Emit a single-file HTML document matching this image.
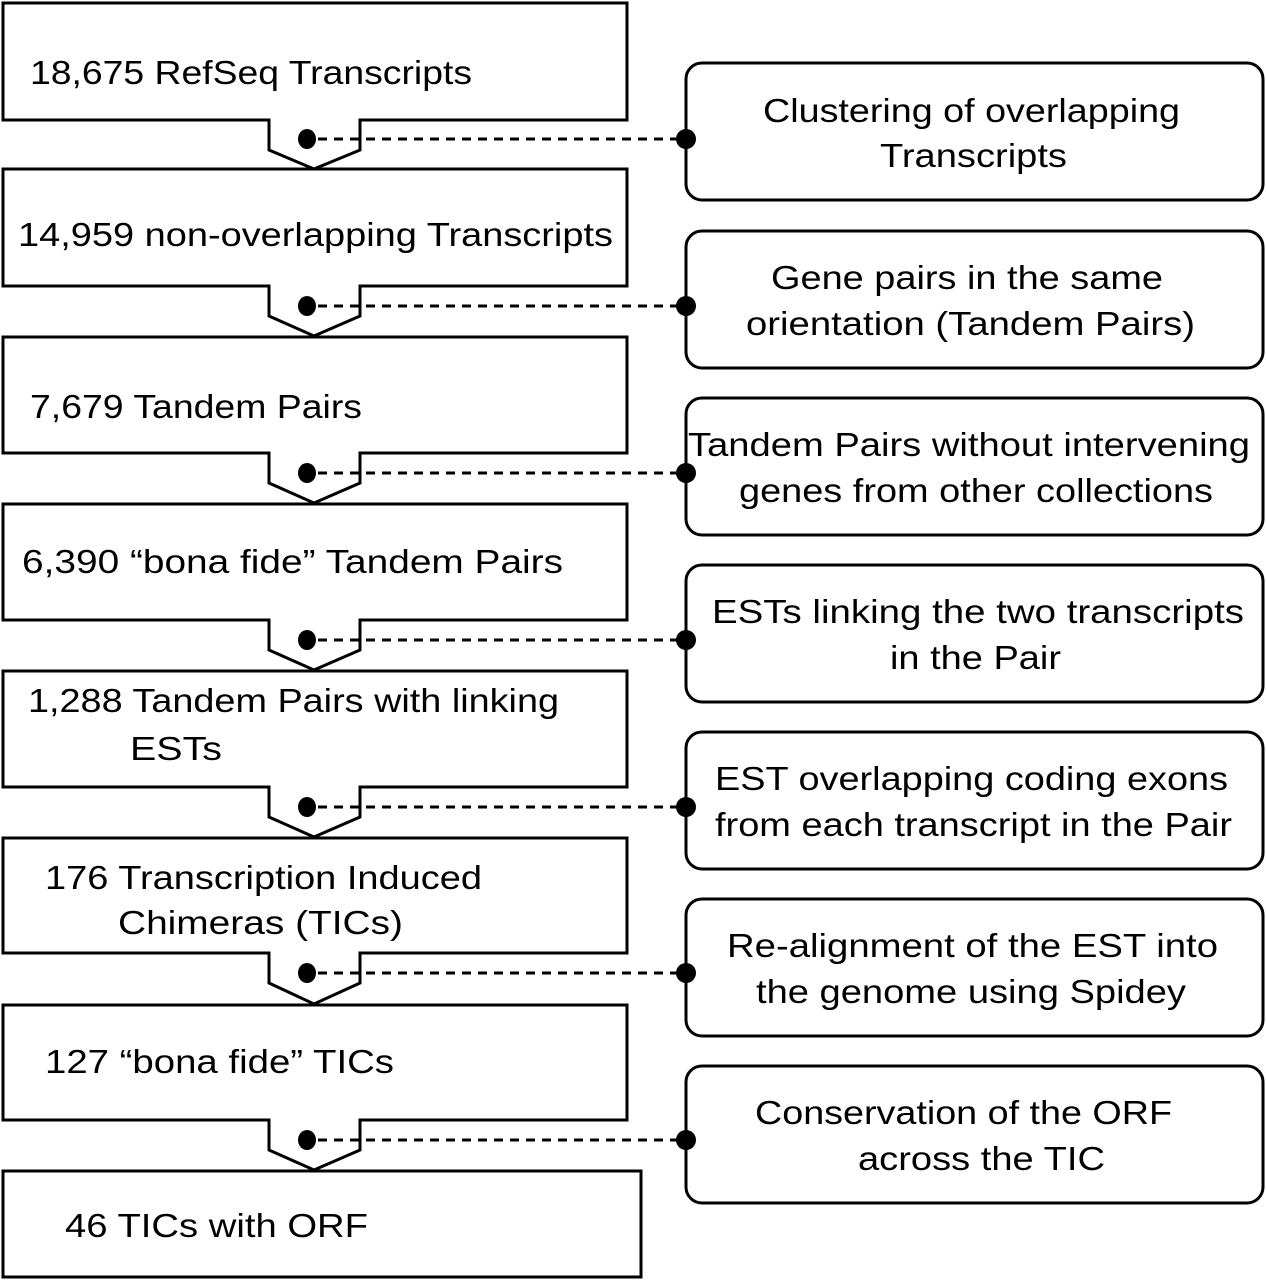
<!DOCTYPE html>
<html><head><meta charset="utf-8"><style>
html,body{margin:0;padding:0;background:#fff;}
svg{display:block;}
text{font-family:"Liberation Sans",Arial,sans-serif;font-size:33px;fill:#000;}
</style></head><body>
<svg width="1266" height="1280" viewBox="0 0 1266 1280" xmlns="http://www.w3.org/2000/svg">
<g fill="none" stroke="#000" stroke-width="3">
<!-- left boxes with chevrons -->
<path d="M3,3 H627 V120 H360 V150 L314,169 L269,150 V120 H3 Z"/>
<path d="M3,169 H627 V286 H360 V316 L314,336 L269,316 V286 H3 Z"/>
<path d="M3,337 H627 V453 H360 V483 L314,503 L269,483 V453 H3 Z"/>
<path d="M3,504 H627 V620 H360 V650 L314,670 L269,650 V620 H3 Z"/>
<path d="M3,671 H627 V787 H360 V817 L314,837 L269,817 V787 H3 Z"/>
<path d="M3,838 H627 V953 H360 V983 L314,1004 L269,983 V953 H3 Z"/>
<path d="M3,1005 H627 V1120 H360 V1150 L314,1170 L269,1150 V1120 H3 Z"/>
<rect x="3" y="1171" width="638" height="106"/>
<!-- right rounded boxes -->
<rect x="686" y="63" width="577" height="137" rx="16"/>
<rect x="686" y="231" width="577" height="137" rx="16"/>
<rect x="686" y="398" width="577" height="137" rx="16"/>
<rect x="686" y="565" width="577" height="137" rx="16"/>
<rect x="686" y="732" width="577" height="137" rx="16"/>
<rect x="686" y="899" width="577" height="137" rx="16"/>
<rect x="686" y="1066" width="577" height="137" rx="16"/>
</g>
<g stroke="#000" stroke-width="3" stroke-dasharray="9,7">
<line x1="318" y1="139" x2="686" y2="139"/>
<line x1="318" y1="306" x2="686" y2="306"/>
<line x1="318" y1="473" x2="686" y2="473"/>
<line x1="318" y1="640" x2="686" y2="640"/>
<line x1="318" y1="807" x2="686" y2="807"/>
<line x1="318" y1="973" x2="686" y2="973"/>
<line x1="318" y1="1140" x2="686" y2="1140"/>
</g>
<g fill="#000">
<ellipse cx="307" cy="139" rx="9" ry="10"/><circle cx="686" cy="139" r="10"/>
<ellipse cx="307" cy="306" rx="9" ry="10"/><circle cx="686" cy="306" r="10"/>
<ellipse cx="307" cy="473" rx="9" ry="10"/><circle cx="686" cy="473" r="10"/>
<ellipse cx="307" cy="640" rx="9" ry="10"/><circle cx="686" cy="640" r="10"/>
<ellipse cx="307" cy="807" rx="9" ry="10"/><circle cx="686" cy="807" r="10"/>
<ellipse cx="307" cy="973" rx="9" ry="10"/><circle cx="686" cy="973" r="10"/>
<ellipse cx="307" cy="1140" rx="9" ry="10"/><circle cx="686" cy="1140" r="10"/>
</g>
<g lengthAdjust="spacingAndGlyphs">
<text x="30" y="84" textLength="442" lengthAdjust="spacingAndGlyphs">18,675 RefSeq Transcripts</text>
<text x="18" y="246" textLength="595" lengthAdjust="spacingAndGlyphs">14,959 non-overlapping Transcripts</text>
<text x="30" y="418" textLength="332" lengthAdjust="spacingAndGlyphs">7,679 Tandem Pairs</text>
<text x="22" y="573" textLength="541" lengthAdjust="spacingAndGlyphs">6,390 “bona fide” Tandem Pairs</text>
<text x="28" y="712" textLength="531" lengthAdjust="spacingAndGlyphs">1,288 Tandem Pairs with linking</text>
<text x="130" y="760" textLength="92" lengthAdjust="spacingAndGlyphs">ESTs</text>
<text x="45" y="889" textLength="437" lengthAdjust="spacingAndGlyphs">176 Transcription Induced</text>
<text x="118" y="934" textLength="285" lengthAdjust="spacingAndGlyphs">Chimeras (TICs)</text>
<text x="45" y="1073" textLength="349" lengthAdjust="spacingAndGlyphs">127 “bona fide” TICs</text>
<text x="65" y="1237" textLength="303" lengthAdjust="spacingAndGlyphs">46 TICs with ORF</text>

<text x="763" y="122" textLength="417" lengthAdjust="spacingAndGlyphs">Clustering of overlapping</text>
<text x="880" y="167" textLength="187" lengthAdjust="spacingAndGlyphs">Transcripts</text>
<text x="771" y="289" textLength="392" lengthAdjust="spacingAndGlyphs">Gene pairs in the same</text>
<text x="746" y="335" textLength="449" lengthAdjust="spacingAndGlyphs">orientation (Tandem Pairs)</text>
<text x="688" y="456" textLength="562" lengthAdjust="spacingAndGlyphs">Tandem Pairs without intervening</text>
<text x="739" y="502" textLength="474" lengthAdjust="spacingAndGlyphs">genes from other collections</text>
<text x="712" y="623" textLength="532" lengthAdjust="spacingAndGlyphs">ESTs linking the two transcripts</text>
<text x="890" y="669" textLength="171" lengthAdjust="spacingAndGlyphs">in the Pair</text>
<text x="715" y="790" textLength="513" lengthAdjust="spacingAndGlyphs">EST overlapping coding exons</text>
<text x="715" y="836" textLength="517" lengthAdjust="spacingAndGlyphs">from each transcript in the Pair</text>
<text x="727" y="957" textLength="491" lengthAdjust="spacingAndGlyphs">Re-alignment of the EST into</text>
<text x="756" y="1003" textLength="430" lengthAdjust="spacingAndGlyphs">the genome using Spidey</text>
<text x="755" y="1124" textLength="417" lengthAdjust="spacingAndGlyphs">Conservation of the ORF</text>
<text x="858" y="1170" textLength="247" lengthAdjust="spacingAndGlyphs">across the TIC</text>
</g>
</svg>
</body></html>
